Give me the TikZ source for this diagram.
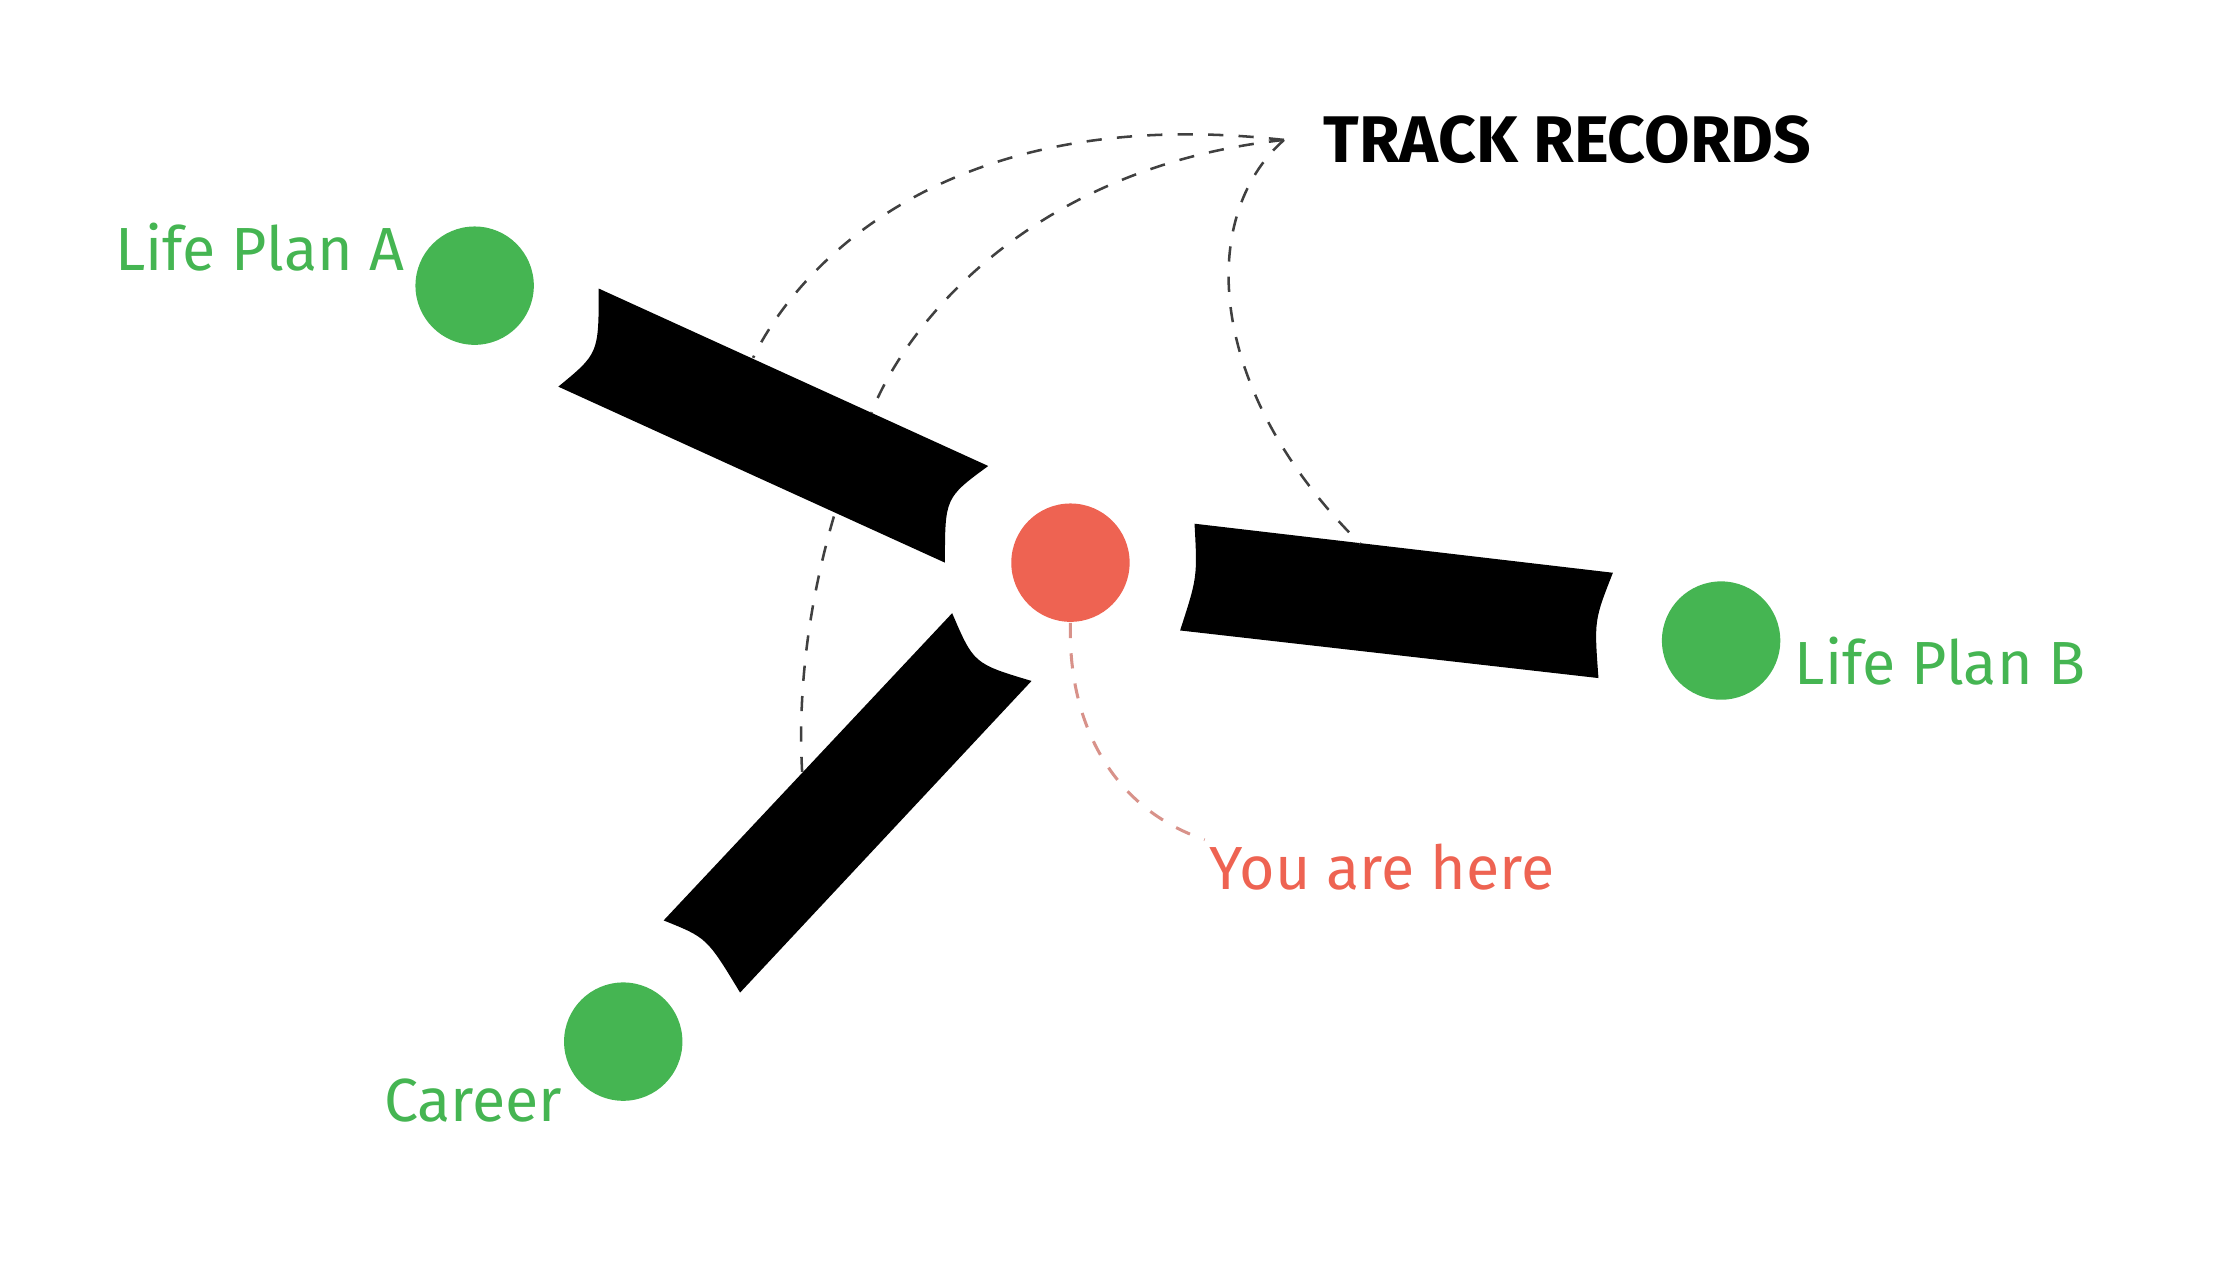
\documentclass[tikz,border=0pt]{standalone}
\usepackage{fontspec}
\setmainfont{Fira Sans}
\definecolor{gr}{HTML}{45B552}
\definecolor{rd}{HTML}{EE6352}
\definecolor{lrd}{HTML}{D8928A}
\begin{document}
\begin{tikzpicture}[x=0.01cm,y=-0.01cm,
 dot/.style={circle,minimum size=0.82cm,inner sep=0pt},
 lbl/.style={text=gr,font=\fontsize{12}{14}\selectfont},
 trk/.style={draw=black!75,dashed,line width=0.5pt}]
\useasboundingbox (0,0) rectangle (1552,875);
\node[dot,fill=rd] (me) at (742,390) {};
\node[dot,fill=gr] (a) at (329,198) {};
\node[dot,fill=gr] (b) at (1193,444) {};
\node[dot,fill=gr] (c) at (432,722) {};
% bars
\fill (415,200) -- (685,323) .. controls (655,345) .. (655,390) -- (387,268) .. controls (415,245) .. (415,200) -- cycle;
\fill (828,363) -- (1118,397) .. controls (1105,430) .. (1108,470) -- (818,437) .. controls (830,400) .. (828,363) -- cycle;
\fill (660,425) .. controls (675,460) .. (715,472) -- (513,688) .. controls (490,650) .. (460,638) -- cycle;
% texts
\node[font=\bfseries\fontsize{13}{15}\selectfont,anchor=west] (tr) at (905,97) {TRACK RECORDS};
\coordinate (t) at (890,97);
\node[lbl] (la) at (180,171) {Life Plan A};
\node[lbl] (lb) at (1345,458) {Life Plan B};
\node[lbl] (lc) at (328,763) {Career};
\node[lbl,text=rd] (ly) at (958,601) {You are here};
% dashed
\coordinate (e1) at (522,248);
\coordinate (e2) at (604,286);
\coordinate (e2b) at (578,358);
\coordinate (e2c) at (556,535);
\coordinate (e3) at (943,377);
\coordinate (ye) at (835,582);
\draw[trk] (t) .. controls (650,70) and (550,190) .. (e1);
\draw[trk] (t) .. controls (720,115) and (630,220) .. (e2);
\draw[trk] (e2b) .. controls (560,420) and (553,480) .. (e2c);
\draw[trk] (t) .. controls (830,150) and (835,270) .. (e3);
\draw[lrd,dashed,line width=0.6pt] (me.south) .. controls (740,500) and (770,560) .. (ye);
\end{tikzpicture}
\end{document}
